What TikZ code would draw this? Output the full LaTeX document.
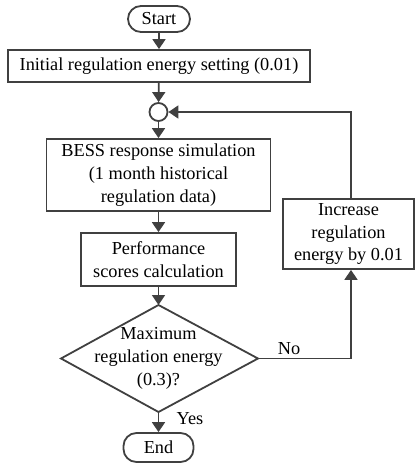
\documentclass[tikz,border=0pt]{standalone}
\usepackage{fontspec}
\setmainfont{Liberation Serif}
\usetikzlibrary{arrows.meta}
\definecolor{ln}{HTML}{404040}
\tikzset{
  x=1pt,y=1pt,
  box/.style={draw=ln,line width=1.8pt,rectangle,align=center,inner sep=0pt,
    font=\fontsize{18.3}{22.7}\selectfont},
  term/.style={box,rounded corners=13pt},
  arr/.style={draw=ln,line width=1.8pt,-{Triangle[length=10pt,width=13pt]}},
  ln/.style={draw=ln,line width=1.8pt},
  lbl/.style={font=\fontsize{18.3}{22.7}\selectfont,inner sep=0pt}
}
\begin{document}
\begin{tikzpicture}
\useasboundingbox (0,0) rectangle (415,-466);
\node[term,minimum width=62pt,minimum height=26pt] (start) at (159,-19) {Start};
\node[box,minimum width=302pt,minimum height=32pt] (init) at (159,-66) {Initial regulation energy setting (0.01)};
\node[draw=ln,line width=1.8pt,circle,minimum size=18pt,inner sep=0pt] (junc) at (158.5,-112) {};
\node[box,minimum width=224pt,minimum height=72pt] (bess) at (158.5,-175) {BESS response simulation\\(1 month historical\\regulation data)};
\node[box,minimum width=155pt,minimum height=53pt] (perf) at (158.5,-259.5) {Performance\\scores calculation};
\coordinate (dtop) at (158.5,-305);
\coordinate (dbot) at (158.5,-412);
\coordinate (dleft) at (61,-358.5);
\coordinate (dright) at (258,-358.5);
\draw[ln,line join=miter] (dtop) -- (dright) -- (dbot) -- (dleft) -- cycle;
\node[lbl,align=center] (dec) at (158.5,-358.5) {Maximum\\regulation energy\\(0.3)?};
\node[term,minimum width=70pt,minimum height=29pt] (end) at (158.5,-447.5) {End};
\node[box,minimum width=131pt,minimum height=70pt] (inc) at (348.5,-234) {Increase\\regulation\\energy by 0.01};
\coordinate (c1) at (351,-358.5);
\coordinate (c2) at (351,-112);
\draw[arr] (start) -- (init);
\draw[arr] (init) -- (junc);
\draw[arr] (junc) -- (bess);
\draw[arr] (bess) -- (perf);
\draw[arr] (perf) -- (dtop);
\draw[arr] (dbot) -- (end);
\draw[arr] (dright) -- (c1) -- (inc.south -| c1);
\draw[arr] (inc.north -| c2) -- (c2) -- (junc.east);
\node[lbl] (no) at (289,-349) {No};
\node[lbl] (yes) at (190,-419) {Yes};
\end{tikzpicture}
\end{document}
